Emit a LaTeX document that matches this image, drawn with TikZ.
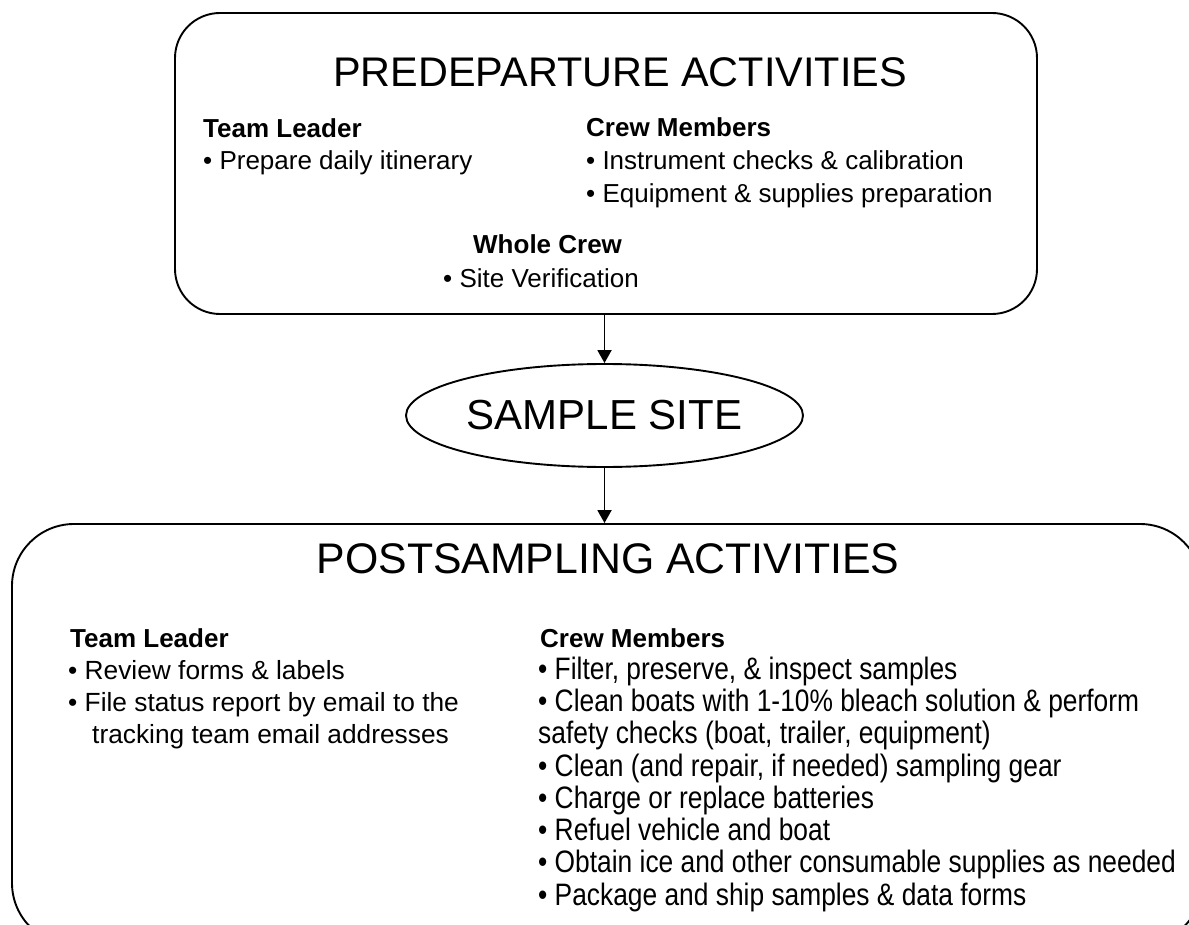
\documentclass[tikz,border=0pt]{standalone}
\usepackage{fontspec}
\setmainfont{Liberation Sans}
\newfontfamily\narrowfont{Liberation Sans}[FakeStretch=0.85]
\usetikzlibrary{arrows.meta,shapes.geometric}

\begin{document}
\begin{tikzpicture}[x=1pt,y=-1pt,
  box/.style={draw,line width=1.9pt,rounded corners=#1,inner sep=0pt},
  oval/.style={draw,ellipse,line width=1.9pt,inner sep=0pt,
    font=\fontsize{42}{50}\selectfont},
  flow/.style={line width=1.9pt,-{Triangle[length=13pt,width=14pt]}},
  heading/.style={anchor=base,inner sep=0pt,font=\fontsize{#1}{49}\selectfont},
  head/.style={anchor=base west,inner sep=0pt,font=\fontsize{26}{32}\bfseries},
  item/.style={anchor=base west,inner sep=0pt,font=\fontsize{26}{32}\selectfont},
  litem/.style={anchor=base west,inner sep=0pt,font=\fontsize{26.3}{32}\selectfont},
  nitem/.style={anchor=base west,inner sep=0pt,font=\fontsize{31}{32}\narrowfont}]
\useasboundingbox (0,0) rectangle (1189,925);
\clip (0,0) rectangle (1189,925);

% boxes and the site oval
\node[box=45pt,minimum width=862pt,minimum height=301pt] (pre) at (606,163.5) {};
\node[oval,minimum width=397pt,minimum height=103pt] (site) at (604.5,415.5) {SAMPLE SITE};
\node[box=62pt,minimum width=1190pt,minimum height=421pt] (post) at (607,734.5) {};

% connectors
\draw[flow] (site.north |- pre.south) -- (site.north);
\draw[flow] (site.south) -- (site.south |- post.north);

% predeparture activities
\node[heading=41.4] (preT) at (620,87) {PREDEPARTURE ACTIVITIES};
\node[head] (preTL) at (203,138) {Team Leader};
\node[item] (preTL1) at (203,170) {\textbullet\ Prepare daily itinerary};
\node[head] (preCM) at (586,137) {Crew Members};
\node[item] (preCM1) at (586,170) {\textbullet\ Instrument checks \& calibration};
\node[item] (preCM2) at (586,203) {\textbullet\ Equipment \& supplies preparation};
\node[head] (preWC) at (473,254) {Whole Crew};
\node[item] (preWC1) at (443,288) {\textbullet\ Site Verification};

% postsampling activities
\node[heading=42.8] (postT) at (608,573) {POSTSAMPLING ACTIVITIES};
\node[head] (postTL) at (70,647) {Team Leader};
\node[litem] (postTL1) at (68,679.25) {\textbullet\ Review forms \& labels};
\node[litem] (postTL2) at (68,711.5) {\textbullet\ File status report by email to the};
\node[litem] (postTL3) at (92,743.75) {tracking team email addresses};

\node[head] (postCM) at (540,647) {Crew Members};
\node[nitem] (postCM1) at (538,679.25) {\textbullet\ Filter, preserve, \& inspect samples};
\node[nitem] (postCM2) at (538,711.5) {\textbullet\ Clean boats with 1-10\% bleach solution \& perform};
\node[nitem] (postCM3) at (538,743.75) {safety checks (boat, trailer, equipment)};
\node[nitem] (postCM4) at (538,776) {\textbullet\ Clean (and repair, if needed) sampling gear};
\node[nitem] (postCM5) at (538,808.25) {\textbullet\ Charge or replace batteries};
\node[nitem] (postCM6) at (538,840.5) {\textbullet\ Refuel vehicle and boat};
\node[nitem] (postCM7) at (538,872.75) {\textbullet\ Obtain ice and other consumable supplies as needed};
\node[nitem] (postCM8) at (538,905) {\textbullet\ Package and ship samples \& data forms};
\end{tikzpicture}
\end{document}
